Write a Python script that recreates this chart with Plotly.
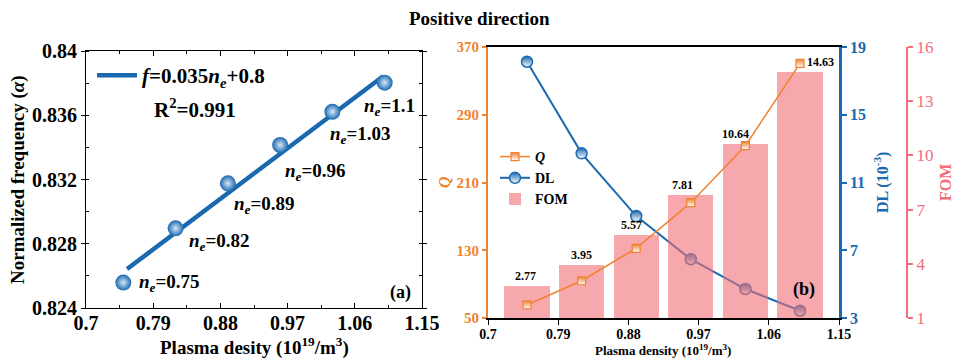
import plotly.graph_objects as go

# ---------------- data ----------------
ne = [0.75, 0.82, 0.89, 0.96, 1.03, 1.10]
freq = [0.82558, 0.82896, 0.83176, 0.83415, 0.83622, 0.83803]
fit_x = [0.755, 1.098]
fit_y = [0.826425, 0.83843]
Q = [65.4, 94.0, 132.3, 186.2, 253.5, 350.7]
DL = [18.13, 12.72, 9.02, 6.47, 4.71, 3.43]
FOM = [2.77, 3.95, 5.57, 7.81, 10.64, 14.63]

x_ticks = [0.7, 0.79, 0.88, 0.97, 1.06, 1.15]
x_ticklabels = ["0.7", "0.79", "0.88", "0.97", "1.06", "1.15"]
freq_ticks = [0.824, 0.828, 0.832, 0.836, 0.84]
freq_ticklabels = ["0.824", "0.828", "0.832", "0.836", "0.84"]
q_ticks = [50, 130, 210, 290, 370]
dl_ticks = [3, 7, 11, 15, 19]
fom_ticks = [1, 4, 7, 10, 13, 16]

FONT = "Liberation Serif"
BLUE = "#1a69b0"
ORANGE = "#ef8330"
RED = "#f06e78"
W, H = 958, 358

def px_x(p):
    return p / W

def px_y(p):
    return 1 - p / H

fig = go.Figure()

# ---------------- left panel ----------------
fig.add_trace(go.Scatter(
    x=fit_x, y=fit_y, mode="lines", xaxis="x", yaxis="y",
    line=dict(color=BLUE, width=4.5),
    name="<b><i>f</i>=0.035<i>n</i><sub><i>e</i></sub>+0.8</b>",
    legend="legend", showlegend=True,
))
fig.add_trace(go.Scatter(
    x=ne, y=freq, mode="markers", xaxis="x", yaxis="y",
    marker=dict(size=16, color=BLUE, line=dict(width=0),
                gradient=dict(type="radial", color="#d8e8f7")),
    showlegend=False, cliponaxis=False,
))

# ---------------- right panel ----------------
fig.add_trace(go.Scatter(
    x=ne, y=DL, mode="lines+markers", xaxis="x2", yaxis="y2",
    line=dict(color=BLUE, width=2),
    marker=dict(symbol="circle", size=11, color=BLUE,
                line=dict(color=BLUE, width=1.5),
                gradient=dict(type="vertical", color="white")),
    name="<b>DL</b>", legend="legend2", legendrank=2, cliponaxis=False,
))
fig.add_trace(go.Bar(
    x=ne, y=FOM, xaxis="x2", yaxis="y3", width=0.058,
    marker=dict(color="rgba(240,110,116,0.6)", line=dict(width=0)),
    name="<b>FOM</b>", legend="legend2", legendrank=3,
))
fig.add_trace(go.Scatter(
    x=ne, y=Q, mode="lines+markers", xaxis="x2", yaxis="y4",
    line=dict(color=ORANGE, width=1.5),
    marker=dict(symbol="square", size=8, color=ORANGE,
                line=dict(color=ORANGE, width=1.2),
                gradient=dict(type="vertical", color="white")),
    name="<b><i>Q</i></b>", legend="legend2", legendrank=1, cliponaxis=False,
))

tickfont_l = dict(family=FONT, size=20, color="black", weight="bold")

fig.update_layout(
    width=W, height=H,
    margin=dict(l=0, r=0, t=0, b=0, autoexpand=False),
    paper_bgcolor="white", plot_bgcolor="white",
    font=dict(family=FONT, color="black"),
    bargap=0,
    xaxis=dict(
        domain=[px_x(86), px_x(422)], range=[0.7, 1.15], anchor="y", automargin=False,
        tickvals=x_ticks, ticktext=x_ticklabels, tickfont=tickfont_l,
        ticks="inside", ticklen=5, tickcolor="black", tickwidth=1, ticklabelstandoff=-3,
        minor=dict(dtick=0.045, tick0=0.7, ticks="inside", ticklen=3, tickcolor="black"),
        showline=True, linecolor="black", linewidth=1.2, mirror="ticks",
        showgrid=False, zeroline=False,
    ),
    yaxis=dict(
        domain=[px_y(308), px_y(51)], range=[0.824, 0.84], anchor="x", automargin=False,
        tickvals=freq_ticks, ticktext=freq_ticklabels, tickfont=tickfont_l,
        ticks="outside", ticklen=4, tickcolor="black",
        minor=dict(dtick=0.002, tick0=0.824, ticks="inside", ticklen=3, tickcolor="black"),
        showline=True, linecolor="black", linewidth=1.2, mirror="ticks",
        showgrid=False, zeroline=False,
    ),
    xaxis2=dict(
        domain=[px_x(488), px_x(839)], range=[0.7, 1.15], anchor="y2", automargin=False,
        tickvals=x_ticks, ticktext=x_ticklabels, ticklabelstandoff=-3,
        tickfont=dict(family=FONT, size=14, color="black", weight="bold"),
        ticks="outside", ticklen=5, tickcolor="black",
        showline=True, linecolor="black", linewidth=1.5, mirror=True,
        showgrid=False, zeroline=False,
    ),
    yaxis2=dict(
        domain=[px_y(318), px_y(47)], range=[3, 19], anchor="x2", side="right", automargin=False,
        tickvals=dl_ticks, tickfont=dict(family=FONT, size=16, color=BLUE, weight="bold"),
        ticks="outside", ticklen=5, tickcolor=BLUE, tickwidth=2,
        showline=True, linecolor=BLUE, linewidth=2.5,
        showgrid=False, zeroline=False,
    ),
    yaxis3=dict(
        overlaying="y2", range=[1, 16], anchor="free", side="right", automargin=False,
        position=px_x(907),
        tickvals=fom_ticks, tickfont=dict(family=FONT, size=17, color=RED),
        ticks="outside", ticklen=5, tickcolor=RED, tickwidth=2,
        showline=True, linecolor=RED, linewidth=2,
        showgrid=False, zeroline=False,
    ),
    yaxis4=dict(
        overlaying="y2", range=[50, 370], anchor="x2", side="left", automargin=False,
        tickvals=q_ticks, tickfont=dict(family=FONT, size=15, color=ORANGE, weight="bold"),
        ticks="outside", ticklen=4, tickcolor=ORANGE, tickwidth=2,
        showline=True, linecolor=ORANGE, linewidth=2,
        showgrid=False, zeroline=False,
    ),
    legend=dict(
        x=px_x(92), y=px_y(55), xanchor="left", yanchor="top",
        bgcolor="rgba(0,0,0,0)", font=dict(family=FONT, size=21, color="black"),
        itemwidth=40,
    ),
    legend2=dict(
        x=px_x(495), y=px_y(141), xanchor="left", yanchor="top",
        bgcolor="rgba(0,0,0,0)", font=dict(family=FONT, size=14, color="black"),
        tracegroupgap=0, itemwidth=30,
    ),
)

ann = []

def add_text(text, x, y, size, color="black", angle=0, xanchor="center", **kw):
    ann.append(dict(text=text, x=px_x(x), y=px_y(y), xref="paper", yref="paper",
                    xanchor=xanchor, yanchor="middle", showarrow=False, textangle=angle,
                    font=dict(family=FONT, size=size, color=color), **kw))

add_text("<b>Positive direction</b>", 479, 18, 19)
add_text("<b>Normalized frequency (<i>α</i>)</b>", 18, 180, 19, angle=-90)
add_text("<b>Plasma desity (10<sup>19</sup>/m<sup>3</sup>)</b>", 255, 346, 19)
add_text("<b>R<sup>2</sup>=0.991</b>", 152, 108, 21, xanchor="left")
add_text("<b>(a)</b>", 400, 292, 18)
add_text("<b><i>Q</i></b>", 444, 182, 16, color=ORANGE, angle=-90)
add_text("<b>DL (10<sup>-3</sup>)</b>", 881, 183, 16, color=BLUE, angle=-90)
add_text("<b>FOM</b>", 945, 183, 16, color=RED, angle=-90)
add_text("<b>Plasma density (10<sup>19</sup>/m<sup>3</sup>)</b>", 663, 350, 13)
add_text("<b>(b)</b>", 804, 289, 18)

# n_e labels
label_dx = [14, 11, 4, 3, -4, -23]
label_dy = [0, -14, -22, -27, -23, -24]
for i, v in enumerate(ne):
    ann.append(dict(text=f"<b><i>n</i><sub><i>e</i></sub>={v:g}</b>", x=v, y=freq[i],
                    xref="x", yref="y", xanchor="left", yanchor="middle", showarrow=False,
                    xshift=label_dx[i], yshift=label_dy[i],
                    font=dict(family=FONT, size=19, color="black")))
# bar value labels
bar_dx = [-2, 0, -5, -8, -10, 20]
for i, v in enumerate(FOM):
    ann.append(dict(text=f"<b>{v:.2f}</b>", x=ne[i], y=v, xref="x2", yref="y3",
                    yanchor="bottom", showarrow=False, xshift=bar_dx[i], yshift=1,
                    font=dict(family=FONT, size=12, color="black")))

fig.update_layout(annotations=ann)
fig.write_html("out.html", config={"displayModeBar": False},
               post_script="document.body.style.margin='0';")
